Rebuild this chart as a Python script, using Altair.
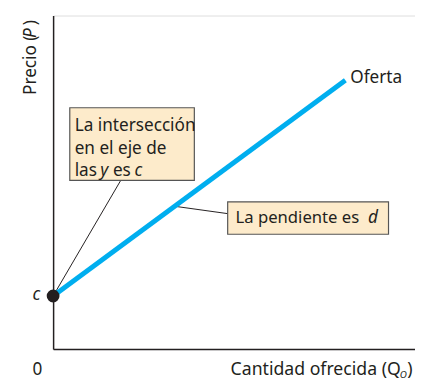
import altair as alt
import pandas as pd

# Data coordinates: x in plot units (0..369), y in plot units (0..340)
c_value = 54
supply_x = [0, 298]
supply_y = [54, 274]

# annotation boxes
box_x1 = [17, 178]
box_x2 = [144, 342]
box_y1 = [246, 150]
box_y2 = [172, 117]

# leader lines
lead_x1 = [0, 124]
lead_y1 = [54, 145.5]
lead_x2 = [69, 178]
lead_y2 = [172, 138]

# text pieces (baseline = alphabetic)
norm_text = ["La intersección", "en el eje de", "las", "es", "Oferta", "0"]
norm_x = [22, 22, 22, 61, 303, -21]
norm_y = [222, 199, 176, 176, 271, -27]

pend_text = ["La pendiente es"]
pend_x = [186]
pend_y = [128]

ital_text = ["y", "c", "d", "c"]
ital_x = [48, 83, 321, -21]
ital_y = [176, 176, 128, 49.5]

xlab_text = ["Cantidad ofrecida (Q", ")"]
xlab_x = [181, 361]
xlab_y = [-27, -27]

sub_text = ["O"]
sub_x = [353.5]
sub_y = [-30]

rot_text = ["Precio (", "P", ")"]
rot_x = [-17, -17, -17]
rot_y = [259, 317, 330]
rot_italic = ["normal", "italic", "normal"]

TXT = "#231F20"
FONT = "Noto Sans"
FS = 17.5

xs = alt.Scale(domain=[0, 369], nice=False, zero=False)
ys = alt.Scale(domain=[0, 340], nice=False, zero=False)

line_df = pd.DataFrame({"x": supply_x, "y": supply_y})
box_df = pd.DataFrame({"x": box_x1, "x2": box_x2, "y": box_y1, "y2": box_y2})
lead_df = pd.DataFrame({"x": lead_x1, "x2": lead_x2, "y": lead_y1, "y2": lead_y2})
dot_df = pd.DataFrame({"x": [0], "y": [c_value]})
norm_df = pd.DataFrame({"t": norm_text, "x": norm_x, "y": norm_y})
pend_df = pd.DataFrame({"t": pend_text, "x": pend_x, "y": pend_y})
ital_df = pd.DataFrame({"t": ital_text, "x": ital_x, "y": ital_y})
xlab_df = pd.DataFrame({"t": xlab_text, "x": xlab_x, "y": xlab_y})
sub_df = pd.DataFrame({"t": sub_text, "x": sub_x, "y": sub_y})
rot_df = pd.DataFrame({"t": rot_text, "x": rot_x, "y": rot_y, "s": rot_italic})

ax = alt.Axis(domain=True, ticks=False, labels=False, grid=False, title=None,
              domainColor=TXT, domainWidth=1.5)

base_axes = alt.Chart(line_df).mark_line(opacity=0).encode(
    x=alt.X("x:Q", scale=xs, axis=ax),
    y=alt.Y("y:Q", scale=ys, axis=ax),
)

leaders = alt.Chart(lead_df).mark_rule(color=TXT, strokeWidth=1).encode(
    x=alt.X("x:Q", scale=xs), x2="x2:Q",
    y=alt.Y("y:Q", scale=ys), y2="y2:Q",
)

supply = alt.Chart(line_df).mark_line(color="#00AEEF", strokeWidth=5, strokeCap="butt").encode(
    x=alt.X("x:Q", scale=xs), y=alt.Y("y:Q", scale=ys)
)

boxes = alt.Chart(box_df).mark_rect(fill="#FDEBCB", stroke="#555555", strokeWidth=1.2).encode(
    x=alt.X("x:Q", scale=xs), x2="x2:Q",
    y=alt.Y("y:Q", scale=ys), y2="y2:Q",
)

dot = alt.Chart(dot_df).mark_circle(size=170, color="#231F20", opacity=1).encode(
    x=alt.X("x:Q", scale=xs), y=alt.Y("y:Q", scale=ys)
)


def txt(df, size=FS, style="normal", angle=0):
    kw = dict(align="left", baseline="alphabetic", font=FONT, fontSize=size, color=TXT,
              fontStyle=style)
    if angle:
        kw["angle"] = angle
    return alt.Chart(df).mark_text(**kw).encode(
        x=alt.X("x:Q", scale=xs), y=alt.Y("y:Q", scale=ys), text="t:N"
    )


normal = txt(norm_df)
pend = txt(pend_df, size=17)
italic = txt(ital_df, style="italic")
xlab = txt(xlab_df, size=18)
sub = txt(sub_df, size=10, style="italic")
rot_n = txt(rot_df[rot_df.s == "normal"], angle=270)
rot_i = txt(rot_df[rot_df.s == "italic"], style="italic", angle=270)

chart = alt.layer(base_axes, leaders, supply, boxes, dot, normal, pend, italic, xlab, sub, rot_n, rot_i).properties(
    width=369, height=340,
    autosize=alt.AutoSizeParams(type="none"),
    padding={"left": 46, "top": 4, "right": 0, "bottom": 30},
).configure_view(stroke=None).configure(background="white")

chart.save("out.html", embed_options={"renderer": "svg", "actions": False})
